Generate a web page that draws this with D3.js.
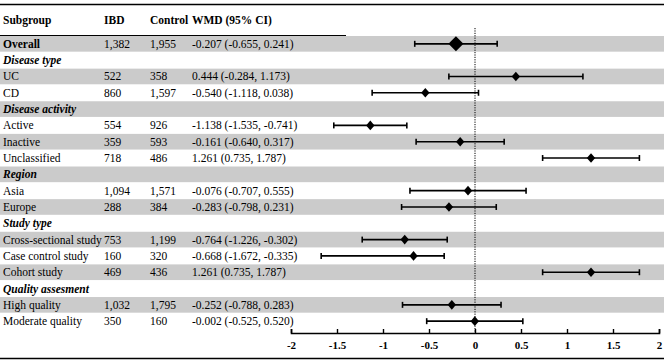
<!doctype html>
<html>
<head>
<meta charset="utf-8">
<style>
  body { margin: 0; background: #fff; }
  svg { display: block; }
  text { font-family: 'Liberation Serif', 'Times New Roman', serif; font-size: 11.5px; fill: #000; }
  text.head { font-weight: bold; }
  text.group { font-weight: bold; font-style: italic; }
  .band { fill: #cbcbcb; }
  .axis text { font-weight: bold; font-size: 11px; font-family: 'Liberation Serif', serif; }
</style>
<script src="https://d3js.org/d3.v7.min.js"></script>
</head>
<body>
<svg width="669" height="364"></svg>
<script>
const labels = ['Overall', 'Disease type', 'UC', 'CD', 'Disease activity', 'Active', 'Inactive', 'Unclassified',
  'Region', 'Asia', 'Europe', 'Study type', 'Cross-sectional study', 'Case control study', 'Cohort study',
  'Quality assesment', 'High quality', 'Moderate quality'];
const isGroup = [false, true, false, false, true, false, false, false, true, false, false, true, false, false, false, true, false, false];
const ibd = ['1,382', '', '522', '860', '', '554', '359', '718', '', '1,094', '288', '', '753', '160', '469', '', '1,032', '350'];
const control = ['1,955', '', '358', '1,597', '', '926', '593', '486', '', '1,571', '384', '', '1,199', '320', '436', '', '1,795', '160'];
const wmd = [-0.207, null, 0.444, -0.540, null, -1.138, -0.161, 1.261, null, -0.076, -0.283, null, -0.764, -0.668, 1.261, null, -0.252, -0.002];
const lower = [-0.655, null, -0.284, -1.118, null, -1.535, -0.640, 0.735, null, -0.707, -0.798, null, -1.226, -1.672, 0.735, null, -0.788, -0.525];
const upper = [0.241, null, 1.173, 0.038, null, -0.741, 0.317, 1.787, null, 0.555, 0.231, null, -0.302, -0.335, 1.787, null, 0.283, 0.520];
const xTicks = [-2, -1.5, -1, -0.5, 0, 0.5, 1, 1.5, 2];

const svg = d3.select('svg');
const fmt = v => v.toFixed(3);

const x = d3.scaleLinear().domain([-2, 2]).range([291, 659]);
const y = d3.scaleBand().domain(d3.range(labels.length)).range([36, 329]).paddingInner(0.04);

// lines top / bottom
svg.append('line').attr('x1', 0).attr('x2', 664).attr('y1', 4.5).attr('y2', 4.5).attr('stroke', '#000').attr('stroke-width', 1.5);
svg.append('line').attr('x1', 0).attr('x2', 664).attr('y1', 358.5).attr('y2', 358.5).attr('stroke', '#000').attr('stroke-width', 1.5);
svg.append('line').attr('x1', 0).attr('x2', 346).attr('y1', 35.5).attr('y2', 35.5).attr('stroke', '#000').attr('stroke-width', 1);

// shaded rows
svg.selectAll('rect.band')
  .data(labels.map((d, i) => i).filter(i => i % 2 === 0))
  .join('rect')
  .attr('class', 'band')
  .attr('x', 0)
  .attr('width', 664)
  .attr('y', i => y(i))
  .attr('height', y.bandwidth());

// header
const cols = [3, 104, 150, 192];
['Subgroup', 'IBD', 'Control', 'WMD (95% CI)'].forEach((t, k) => {
  svg.append('text').attr('class', 'head').attr('x', cols[k]).attr('y', 24).text(t);
});

const rows = svg.selectAll('g.row')
  .data(labels.map((d, i) => i))
  .join('g')
  .attr('class', 'row')
  .attr('transform', i => `translate(0, ${y(i) + y.bandwidth() / 2 + 4})`);

rows.append('text')
  .attr('class', i => isGroup[i] ? 'group' : (i === 0 ? 'head' : null))
  .attr('x', cols[0])
  .text(i => labels[i]);
rows.append('text').attr('x', cols[1]).text(i => ibd[i]);
rows.append('text').attr('x', cols[2]).text(i => control[i]);
rows.append('text').attr('x', cols[3])
  .text(i => wmd[i] === null ? '' : `${fmt(wmd[i])} (${fmt(lower[i])}, ${fmt(upper[i])})`);

// zero line
svg.append('line')
  .attr('x1', x(0)).attr('x2', x(0))
  .attr('y1', 28).attr('y2', 333)
  .attr('stroke', '#000').attr('stroke-width', 1)
  .attr('stroke-dasharray', '1.2 1.2');

// CI whiskers
const est = labels.map((d, i) => i).filter(i => wmd[i] !== null);
const ci = svg.selectAll('g.ci').data(est).join('g').attr('class', 'ci');
ci.append('line')
  .attr('x1', i => x(lower[i])).attr('x2', i => x(upper[i]))
  .attr('y1', i => y(i) + y.bandwidth() / 2).attr('y2', i => y(i) + y.bandwidth() / 2)
  .attr('stroke', '#000').attr('stroke-width', 1.6);
[lower, upper].forEach(arr => {
  ci.append('line')
    .attr('x1', i => x(arr[i])).attr('x2', i => x(arr[i]))
    .attr('y1', i => y(i) + y.bandwidth() / 2 - 3).attr('y2', i => y(i) + y.bandwidth() / 2 + 3)
    .attr('stroke', '#000').attr('stroke-width', 1.6);
});
ci.append('path')
  .attr('d', i => {
    const w = i === 0 ? 7.5 : 4.2, h = i === 0 ? 7.5 : 4.8;
    const cx = x(wmd[i]), cy = y(i) + y.bandwidth() / 2;
    return `M${cx - w},${cy}L${cx},${cy - h}L${cx + w},${cy}L${cx},${cy + h}Z`;
  })
  .attr('fill', '#000');

// axis
const axis = svg.append('g')
  .attr('class', 'axis')
  .attr('transform', 'translate(0, 333)')
  .call(d3.axisTop(x).tickValues(xTicks).tickSize(4).tickFormat(d => String(d)));
axis.select('.domain').attr('stroke-width', 1.6);
axis.selectAll('.tick line').attr('stroke-width', 1.4);
axis.selectAll('.tick text').attr('y', 16).attr('dy', 0);
</script>
</body>
</html>
